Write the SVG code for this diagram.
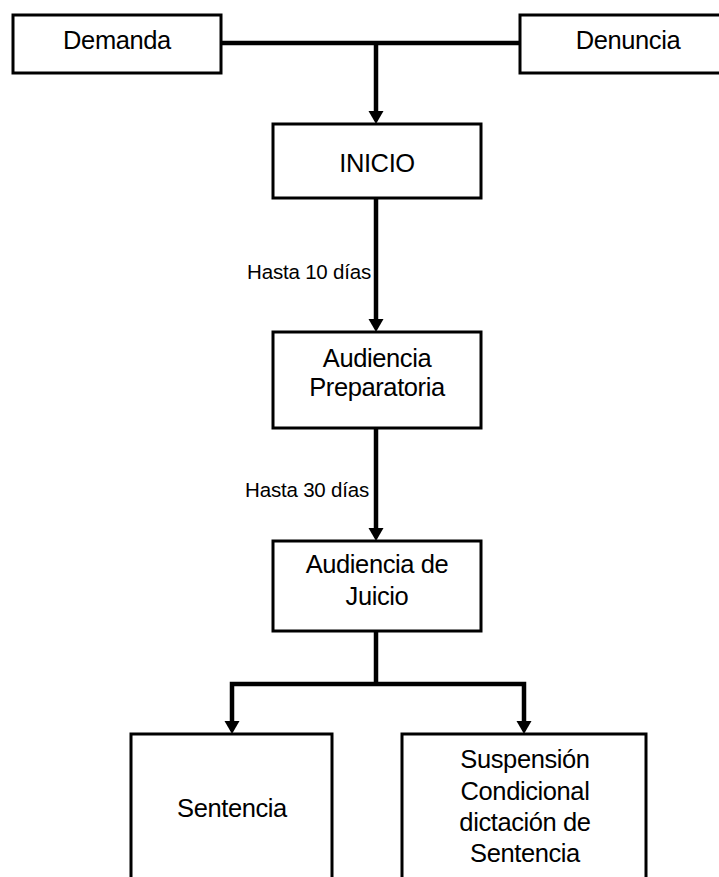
<svg xmlns="http://www.w3.org/2000/svg" width="719" height="877" viewBox="0 0 719 877">
  <style>
    .box { fill: #ffffff; stroke: #000000; stroke-width: 3; }
    .lbl { font-family: "Liberation Sans", Arial, sans-serif; font-size: 25.5px; letter-spacing: -0.4px; fill: #000000; text-anchor: middle; }
    .note { font-family: "Liberation Sans", Arial, sans-serif; font-size: 20.5px; letter-spacing: -0.2px; fill: #000000; text-anchor: end; }
    .wire { fill: none; stroke: #000000; stroke-width: 4.5; stroke-linejoin: miter; }
  </style>
  <defs>
    <marker id="arrow" markerUnits="userSpaceOnUse" markerWidth="14" markerHeight="16" refX="3" refY="7.5" orient="auto">
      <path d="M0,0 L13,7.5 L0,15 z" fill="#000000"/>
    </marker>
  </defs>
  <rect width="719" height="877" fill="#ffffff"/>

  <g id="connectors">
    <path class="wire" d="M221,43 H520"/>
    <path class="wire" d="M376,43 V114" marker-end="url(#arrow)"/>
    <path class="wire" d="M376,198 V322" marker-end="url(#arrow)"/>
    <path class="wire" d="M376,428 V531" marker-end="url(#arrow)"/>
    <path class="wire" d="M376,631 V684"/>
    <path class="wire" d="M376,684 H232 V724" marker-end="url(#arrow)"/>
    <path class="wire" d="M376,684 H524 V724" marker-end="url(#arrow)"/>
    <text class="note" x="371" y="279">Hasta 10 días</text>
    <text class="note" x="369" y="497">Hasta 30 días</text>
  </g>

  <g id="demanda">
    <rect class="box" x="13" y="15" width="208" height="58"/>
    <text class="lbl" x="117" y="49">Demanda</text>
  </g>
  <g id="denuncia">
    <rect class="box" x="520" y="15" width="216" height="58"/>
    <text class="lbl" x="628" y="49">Denuncia</text>
  </g>
  <g id="inicio">
    <rect class="box" x="273" y="124" width="208" height="74"/>
    <text class="lbl" x="377" y="172">INICIO</text>
  </g>
  <g id="audiencia-preparatoria">
    <rect class="box" x="273" y="332" width="208" height="96"/>
    <text class="lbl" x="377" y="367">Audiencia</text>
    <text class="lbl" x="377" y="396">Preparatoria</text>
  </g>
  <g id="audiencia-juicio">
    <rect class="box" x="273" y="541" width="208" height="90"/>
    <text class="lbl" x="377" y="573">Audiencia de</text>
    <text class="lbl" x="377" y="605">Juicio</text>
  </g>
  <g id="sentencia">
    <rect class="box" x="131" y="734" width="201" height="160"/>
    <text class="lbl" x="232" y="817">Sentencia</text>
  </g>
  <g id="suspension">
    <rect class="box" x="402" y="734" width="244" height="160"/>
    <text class="lbl" x="525" y="768">Suspensión</text>
    <text class="lbl" x="525" y="800">Condicional</text>
    <text class="lbl" x="525" y="831">dictación de</text>
    <text class="lbl" x="525" y="862">Sentencia</text>
  </g>
</svg>
